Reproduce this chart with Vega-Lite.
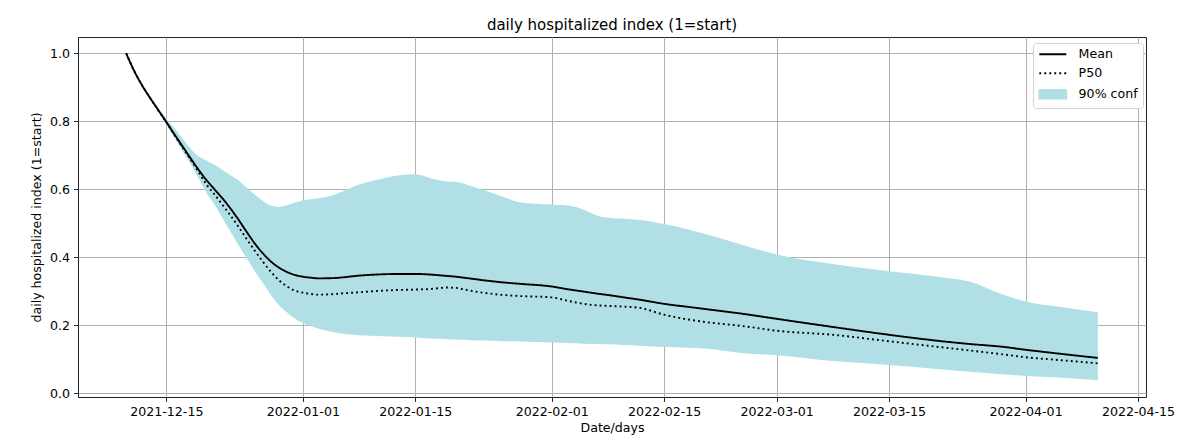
{
  "$schema": "https://vega.github.io/schema/vega-lite/v6.json",
  "autosize": "none",
  "width": 1068,
  "height": 360,
  "padding": {"left": 78, "top": 37, "right": 51, "bottom": 44},
  "background": "white",
  "title": {"text": "daily hospitalized index (1=start)", "fontSize": 15, "font": "DejaVu Sans", "fontWeight": "normal", "color": "black", "anchor": "middle", "baseline": "alphabetic", "offset": 7, "dy": 15},
  "config": {
    "font": "DejaVu Sans",
    "view": {"stroke": "#222222", "strokeWidth": 1},
    "axis": {
      "grid": true, "gridColor": "#b0b0b0", "gridWidth": 1, "gridOpacity": 1,
      "domain": false,
      "tickColor": "#222222", "tickSize": 4.4, "tickWidth": 1,
      "labelFont": "DejaVu Sans", "labelFontSize": 12.6, "labelColor": "black", "labelPadding": 4,
      "titleFont": "DejaVu Sans", "titleFontSize": 12.6, "titleFontWeight": "normal", "titleColor": "black",
      "zindex": 1
    }
  },
  "data": {"values": [
    {"date": "2021-12-10", "Mean": 1.0, "P50": 1.0, "lo": 1.0, "hi": 1.0},
    {"date": "2021-12-11", "Mean": 0.948, "P50": 0.948, "lo": 0.948, "hi": 0.948},
    {"date": "2021-12-12", "Mean": 0.905, "P50": 0.905, "lo": 0.905, "hi": 0.905},
    {"date": "2021-12-13", "Mean": 0.868, "P50": 0.868, "lo": 0.866, "hi": 0.870},
    {"date": "2021-12-14", "Mean": 0.833, "P50": 0.832, "lo": 0.828, "hi": 0.838},
    {"date": "2021-12-15", "Mean": 0.798, "P50": 0.797, "lo": 0.79, "hi": 0.808},
    {"date": "2021-12-16", "Mean": 0.762, "P50": 0.760, "lo": 0.752, "hi": 0.78},
    {"date": "2021-12-17", "Mean": 0.727, "P50": 0.724, "lo": 0.713, "hi": 0.75},
    {"date": "2021-12-18", "Mean": 0.692, "P50": 0.688, "lo": 0.675, "hi": 0.72},
    {"date": "2021-12-19", "Mean": 0.658, "P50": 0.651, "lo": 0.633, "hi": 0.697},
    {"date": "2021-12-20", "Mean": 0.627, "P50": 0.614, "lo": 0.59, "hi": 0.685},
    {"date": "2021-12-21", "Mean": 0.600, "P50": 0.585, "lo": 0.555, "hi": 0.672},
    {"date": "2021-12-22", "Mean": 0.573, "P50": 0.554, "lo": 0.515, "hi": 0.657},
    {"date": "2021-12-23", "Mean": 0.543, "P50": 0.523, "lo": 0.475, "hi": 0.641},
    {"date": "2021-12-24", "Mean": 0.51, "P50": 0.489, "lo": 0.435, "hi": 0.626},
    {"date": "2021-12-25", "Mean": 0.475, "P50": 0.454, "lo": 0.398, "hi": 0.605},
    {"date": "2021-12-26", "Mean": 0.441, "P50": 0.42, "lo": 0.36, "hi": 0.585},
    {"date": "2021-12-27", "Mean": 0.412, "P50": 0.388, "lo": 0.325, "hi": 0.566},
    {"date": "2021-12-28", "Mean": 0.388, "P50": 0.358, "lo": 0.29, "hi": 0.552},
    {"date": "2021-12-29", "Mean": 0.37, "P50": 0.333, "lo": 0.26, "hi": 0.548},
    {"date": "2021-12-30", "Mean": 0.357, "P50": 0.315, "lo": 0.238, "hi": 0.553},
    {"date": "2021-12-31", "Mean": 0.348, "P50": 0.302, "lo": 0.22, "hi": 0.561},
    {"date": "2022-01-01", "Mean": 0.343, "P50": 0.296, "lo": 0.207, "hi": 0.567},
    {"date": "2022-01-02", "Mean": 0.34, "P50": 0.292, "lo": 0.197, "hi": 0.571},
    {"date": "2022-01-03", "Mean": 0.338, "P50": 0.290, "lo": 0.19, "hi": 0.574},
    {"date": "2022-01-05", "Mean": 0.339, "P50": 0.292, "lo": 0.179, "hi": 0.585},
    {"date": "2022-01-06", "Mean": 0.341, "P50": 0.294, "lo": 0.175, "hi": 0.594},
    {"date": "2022-01-08", "Mean": 0.346, "P50": 0.297, "lo": 0.171, "hi": 0.614},
    {"date": "2022-01-11", "Mean": 0.350, "P50": 0.302, "lo": 0.168, "hi": 0.632},
    {"date": "2022-01-13", "Mean": 0.351, "P50": 0.304, "lo": 0.166, "hi": 0.641},
    {"date": "2022-01-15", "Mean": 0.351, "P50": 0.305, "lo": 0.164, "hi": 0.644},
    {"date": "2022-01-17", "Mean": 0.349, "P50": 0.307, "lo": 0.161, "hi": 0.632},
    {"date": "2022-01-19", "Mean": 0.345, "P50": 0.311, "lo": 0.159, "hi": 0.623},
    {"date": "2022-01-20", "Mean": 0.343, "P50": 0.310, "lo": 0.158, "hi": 0.622},
    {"date": "2022-01-22", "Mean": 0.337, "P50": 0.301, "lo": 0.156, "hi": 0.609},
    {"date": "2022-01-24", "Mean": 0.331, "P50": 0.294, "lo": 0.155, "hi": 0.594},
    {"date": "2022-01-26", "Mean": 0.326, "P50": 0.289, "lo": 0.153, "hi": 0.577},
    {"date": "2022-01-28", "Mean": 0.322, "P50": 0.286, "lo": 0.152, "hi": 0.562},
    {"date": "2022-02-01", "Mean": 0.314, "P50": 0.282, "lo": 0.149, "hi": 0.555},
    {"date": "2022-02-03", "Mean": 0.306, "P50": 0.272, "lo": 0.148, "hi": 0.552},
    {"date": "2022-02-05", "Mean": 0.299, "P50": 0.263, "lo": 0.146, "hi": 0.540},
    {"date": "2022-02-07", "Mean": 0.292, "P50": 0.258, "lo": 0.145, "hi": 0.520},
    {"date": "2022-02-08", "Mean": 0.289, "P50": 0.257, "lo": 0.144, "hi": 0.516},
    {"date": "2022-02-10", "Mean": 0.282, "P50": 0.255, "lo": 0.142, "hi": 0.513},
    {"date": "2022-02-12", "Mean": 0.275, "P50": 0.251, "lo": 0.140, "hi": 0.510},
    {"date": "2022-02-15", "Mean": 0.263, "P50": 0.231, "lo": 0.136, "hi": 0.498},
    {"date": "2022-02-18", "Mean": 0.254, "P50": 0.217, "lo": 0.134, "hi": 0.482},
    {"date": "2022-02-20", "Mean": 0.248, "P50": 0.210, "lo": 0.132, "hi": 0.469},
    {"date": "2022-02-25", "Mean": 0.233, "P50": 0.197, "lo": 0.118, "hi": 0.435},
    {"date": "2022-03-01", "Mean": 0.219, "P50": 0.184, "lo": 0.112, "hi": 0.408},
    {"date": "2022-03-08", "Mean": 0.195, "P50": 0.172, "lo": 0.095, "hi": 0.380},
    {"date": "2022-03-15", "Mean": 0.172, "P50": 0.153, "lo": 0.083, "hi": 0.359},
    {"date": "2022-03-22", "Mean": 0.152, "P50": 0.134, "lo": 0.069, "hi": 0.340},
    {"date": "2022-03-25", "Mean": 0.145, "P50": 0.126, "lo": 0.063, "hi": 0.329},
    {"date": "2022-03-29", "Mean": 0.137, "P50": 0.115, "lo": 0.056, "hi": 0.292},
    {"date": "2022-04-01", "Mean": 0.128, "P50": 0.106, "lo": 0.051, "hi": 0.270},
    {"date": "2022-04-05", "Mean": 0.117, "P50": 0.098, "lo": 0.046, "hi": 0.255},
    {"date": "2022-04-10", "Mean": 0.104, "P50": 0.088, "lo": 0.038, "hi": 0.238}
  ]},
  "encoding": {
    "x": {
      "field": "date", "type": "temporal",
      "scale": {"type": "utc", "domain": [{"year": 2021, "month": 12, "date": 4, "utc": true}, {"year": 2022, "month": 4, "date": 16, "utc": true}]},
      "axis": {
        "title": "Date/days", "titlePadding": 3, "labelExpr": "utcFormat(datum.value, '%Y-%m-%d')", "labelAngle": 0,
        "values": [
          {"year": 2021, "month": 12, "date": 15, "utc": true},
          {"year": 2022, "month": 1, "date": 1, "utc": true},
          {"year": 2022, "month": 1, "date": 15, "utc": true},
          {"year": 2022, "month": 2, "date": 1, "utc": true},
          {"year": 2022, "month": 2, "date": 15, "utc": true},
          {"year": 2022, "month": 3, "date": 1, "utc": true},
          {"year": 2022, "month": 3, "date": 15, "utc": true},
          {"year": 2022, "month": 4, "date": 1, "utc": true},
          {"year": 2022, "month": 4, "date": 15, "utc": true}
        ]
      }
    }
  },
  "layer": [
    {
      "mark": {"type": "area", "color": "#b0e0e6", "opacity": 1, "interpolate": "monotone"},
      "encoding": {
        "y": {"field": "lo", "type": "quantitative", "scale": {"domain": [-0.011, 1.048], "nice": false, "zero": false},
          "axis": {"title": "daily hospitalized index (1=start)", "values": [0, 0.2, 0.4, 0.6, 0.8, 1.0], "format": ".1f", "titlePadding": 6}},
        "y2": {"field": "hi"}
      }
    },
    {
      "transform": [{"fold": ["Mean", "P50"], "as": ["series", "value"]}],
      "mark": {"type": "line", "strokeWidth": 1.9, "interpolate": "monotone", "strokeCap": "butt"},
      "encoding": {
        "y": {"field": "value", "type": "quantitative"},
        "color": {
          "field": "series", "type": "nominal",
          "scale": {"domain": ["Mean", "P50", "90% conf"], "range": ["black", "black", "#b0e0e6"]},
          "legend": {
            "title": null, "orient": "none", "legendX": 955, "legendY": 6,
            "fillColor": "white", "strokeColor": "#d5d5d5", "cornerRadius": 3, "padding": 5,
            "symbolSize": 100, "labelFontSize": 12.6, "labelFont": "DejaVu Sans", "labelColor": "black",
            "rowPadding": 6, "labelOffset": 28, "symbolStrokeWidth": 1.9,
            "encode": {
              "symbols": {"update": {
                "shape": {"signal": "datum.value === '90% conf' ? 'M-1,-0.85H4.4V0.85H-1Z' : 'M-1,0H4.4'"},
                "fill": {"signal": "datum.value === '90% conf' ? '#b0e0e6' : 'transparent'"},
                "stroke": {"signal": "datum.value === '90% conf' ? 'transparent' : 'black'"},
                "strokeDash": {"signal": "datum.value === 'P50' ? [1.9, 3.1] : [1, 0]"},
                "opacity": {"value": 1}
              }}
            }
          }
        },
        "strokeDash": {
          "field": "series", "type": "nominal",
          "scale": {"domain": ["Mean", "P50"], "range": [[1, 0], [1.9, 3.1]]},
          "legend": null
        }
      }
    }
  ]
}
